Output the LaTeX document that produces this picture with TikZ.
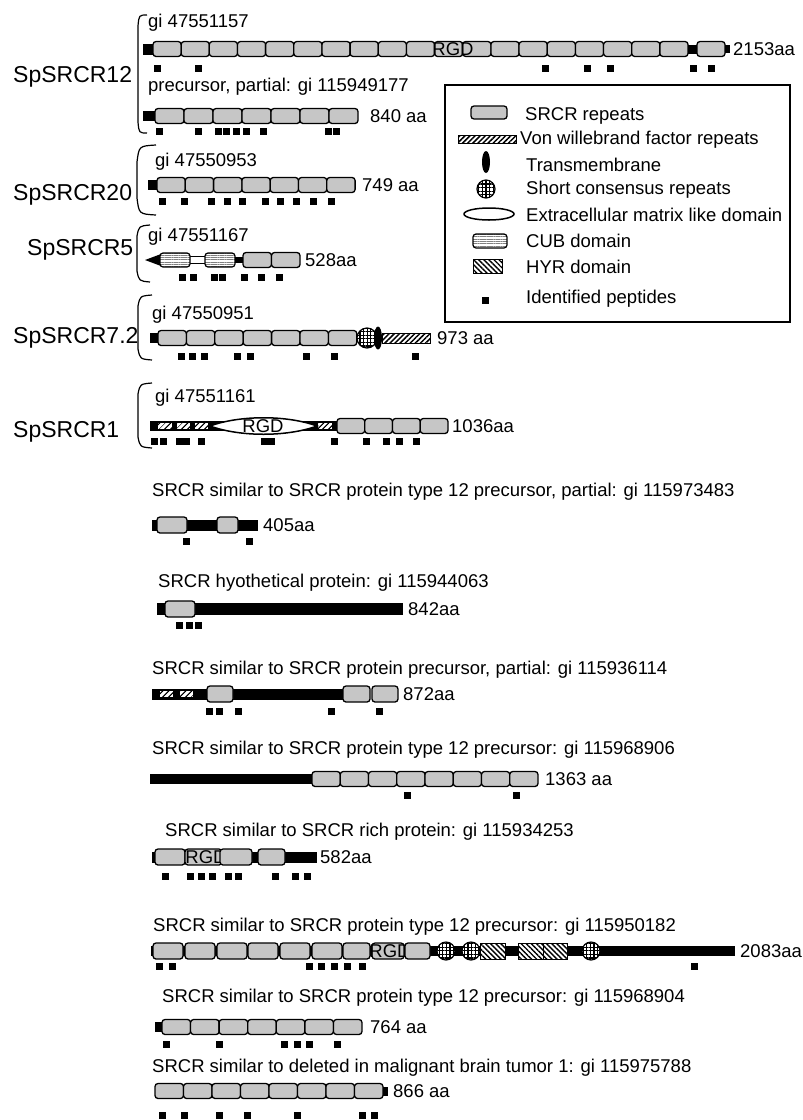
\documentclass[tikz,border=0pt]{standalone}
\usepackage{fontspec}
\setmainfont{Liberation Sans}
\usetikzlibrary{patterns.meta}
\definecolor{srcrgray}{RGB}{198,198,198}
\newcommand\fmid{\fontsize{18.5}{22}\selectfont}
\newcommand\fbig{\fontsize{23}{27}\selectfont}
% #1 x0, #2 width, #3 count, #4 y centre
\newcommand\srcrs[4]{\foreach \k in {1,...,#3}{\draw[srcr] ({#1+(\k-1)*#2},{#4-7.5}) rectangle ({#1+\k*#2},{#4+7.5});}}
% #1 y centre, #2 list of x centres
\newcommand\peps[2]{\foreach \px in {#2}{\fill ({\px-3.5},{#1-3.5}) rectangle ++(7,7);}}
\begin{document}
\begin{tikzpicture}[x=1pt,y=-1pt,
  srcr/.style={draw=black,fill=srcrgray,line width=1.3pt,rounded corners=3pt},
  lbl/.style={anchor=west,inner sep=0pt,font=\fmid},
  big/.style={anchor=west,inner sep=0pt,font=\fbig},
  rgd/.style={inner sep=0pt,font=\fmid},
  brk/.style={draw=black,line width=1.2pt},
  vwf/.style={draw=black,line width=1pt,preaction={fill=white},pattern={Lines[angle=45,distance=3.6pt,line width=1.5pt]}},
  vwfin/.style={preaction={fill=white},pattern={Lines[angle=45,distance=4pt,line width=1.3pt]}},
  hyr/.style={draw=black,line width=1pt,preaction={fill=white},pattern={Lines[angle=-45,distance=3.6pt,line width=1.4pt]}},
  scr/.style={draw=black,line width=1.2pt,preaction={fill=white},pattern={Hatch[angle=0,distance=3.6pt,line width=1.3pt]}},
  cub/.style={draw=black,line width=1.2pt,rounded corners=3pt,preaction={fill=white},pattern={Lines[angle=0,distance=2.3pt,line width=0.7pt]},pattern color=gray},
  ecm/.style={draw=black,line width=1.5pt,fill=white},
  ]
\useasboundingbox (0,0) rectangle (803,1120);
\fill[white] (0,0) rectangle (803,1120);

% ---------------- group labels and brackets
\node[big] (g12) at (13,77) {SpSRCR12};
\node[big] (g20) at (13,195) {SpSRCR20};
\node[big] (g5) at (27,250) {SpSRCR5};
\node[big] (g72) at (13,338) {SpSRCR7.2};
\node[big] (g1) at (13,432) {SpSRCR1};
\draw[brk] (147,15) .. controls (139,15) .. (138,26) -- (138,122) .. controls (139,133) .. (147,133);
\draw[brk] (156,145) .. controls (139,146) .. (137,162) -- (137,198) .. controls (139,214) .. (156,215);
\draw[brk] (150,225) .. controls (139,226) .. (137,236) -- (137,271) .. controls (139,281) .. (150,282);
\draw[brk] (152,295) .. controls (140,296) .. (138,306) -- (138,349) .. controls (140,359) .. (152,360);
\draw[brk] (152,383) .. controls (140,384) .. (138,394) -- (138,437) .. controls (140,447) .. (152,448);

% ---------------- row 1
\node[lbl] (t1) at (148,23) {gi 47551157};
\fill (143,44) rectangle (154,55);
\srcrs{153}{28.16}{19}{49}
\node[rgd] (r1) at (453,49) {RGD};
\fill (688,45) rectangle (698,54);
\draw[srcr] (697,41.5) rectangle (725,56.5);
\fill (725,45) rectangle (730,53);
\node[lbl] (a1) at (733,49) {2153aa};
\peps{68}{157,198,545,587,610,693,711}

% ---------------- row 2
\node[lbl] (t2) at (148,87) {precursor, partial: gi 115949177};
\fill (143,111) rectangle (156,121);
\srcrs{155}{29}{7}{116}
\node[lbl] (a2) at (370,116) {840 aa};
\peps{131}{159,198,218.5,226.5,236.5,246.5,263.5,328.5,336.5}

% ---------------- row 3
\node[lbl] (t3) at (155,162) {gi 47550953};
\fill (148,180) rectangle (158,190);
\srcrs{157}{28.3}{7}{185}
\node[lbl] (a3) at (362,185) {749 aa};
\peps{201}{162.5,184,211,227,242,265,280,296,313,331}

% ---------------- row 4
\node[lbl] (t4) at (148,237) {gi 47551167};
\fill (145,260) -- (161,254) -- (161,266) -- cycle;
\draw[line width=1pt,fill=white] (189,256.5) rectangle (206,263.5);
\draw[cub] (160,253) rectangle (190,267);
\draw[cub] (205,253) rectangle (235,267);
\fill (235,257) rectangle (244,263);
\srcrs{243}{28.5}{2}{260}
\node[lbl] (a4) at (305,260) {528aa};
\peps{277}{182.5,193,214,222.5,244,261,279}

% ---------------- row 5
\node[lbl] (t5) at (152,315) {gi 47550951};
\fill (150,333) rectangle (159,343);
\srcrs{158}{28.4}{7}{338}
\draw[vwf] (382,333) rectangle (430,343);
\draw[scr] (367,338) circle (10);
\fill (378,338) ellipse (4 and 11.5);
\node[lbl] (a5) at (437,338) {973 aa};
\peps{356}{181.5,192.5,204,237,250,306,334,415}

% ---------------- row 6
\node[lbl] (t6) at (155,398) {gi 47551161};
\fill (150,421) rectangle (338,431);
\fill[vwfin] (158,423) rectangle (172,429);
\fill[vwfin] (177,423) rectangle (190,429);
\fill[vwfin] (195,423) rectangle (208,429);
\fill[vwfin] (318,423) rectangle (332,429);
\draw[ecm] (210,426) .. controls (240,415) and (287,415) .. (317,426) .. controls (287,437) and (240,437) .. (210,426);
\node[rgd] (r6) at (263,426) {RGD};
\srcrs{337}{27.75}{4}{426}
\node[lbl] (a6) at (452,426) {1036aa};
\peps{441}{154,163,179.5,186,201.5,264.5,271.5,334,366.5,386.5,399,416.5}

% ---------------- legend
\draw[line width=1.2pt] (445,85) rectangle (790,322);
\draw[srcr] (471,106) rectangle (507,119);
\node[lbl] (l1) at (525,116) {SRCR repeats};
\draw[vwf] (458,135) rectangle (516,143);
\node[lbl] (l2) at (520,140) {Von willebrand factor repeats};
\fill (486,162) ellipse (4 and 11);
\node[lbl] (l3) at (526,165) {Transmembrane};
\draw[scr] (486,189) circle (9);
\node[lbl] (l4) at (526,190) {Short consensus repeats};
\draw[ecm] (489,214) ellipse (25 and 6);
\node[lbl] (l5) at (526,215) {Extracellular matrix like domain};
\draw[cub] (473,234) rectangle (507,248);
\node[lbl] (l6) at (526,241) {CUB domain};
\draw[hyr] (473,259) rectangle (502,273);
\node[lbl] (l7) at (526,267) {HYR domain};
\fill (482,297) rectangle (489,304);
\node[lbl] (l8) at (526,299) {Identified peptides};

% ---------------- row 7
\node[lbl] (t7) at (152,492) {SRCR similar to SRCR protein type 12 precursor, partial: gi 115973483};
\fill (152,519.5) rectangle (258,530.5);
\draw[srcr] (157,517) rectangle (187,533);
\draw[srcr] (217,517) rectangle (238,533);
\node[lbl] (a7) at (263,525) {405aa};
\peps{541}{186,249}

% ---------------- row 8
\node[lbl] (t8) at (158,583) {SRCR hyothetical protein: gi 115944063};
\fill (157,603) rectangle (403,615);
\draw[srcr] (165,601) rectangle (195,617);
\node[lbl] (a8) at (408,609) {842aa};
\peps{625}{179,189,198}

% ---------------- row 9
\node[lbl] (t9) at (152,670) {SRCR similar to SRCR protein precursor, partial: gi 115936114};
\fill (152,688.5) rectangle (343,699.5);
\fill[vwfin] (160,691) rectangle (173,697);
\fill[vwfin] (180,691) rectangle (193,697);
\draw[srcr] (207,686) rectangle (233,702);
\draw[srcr] (343,686) rectangle (370,702);
\draw[srcr] (372,686) rectangle (398,702);
\node[lbl] (a9) at (403,694) {872aa};
\peps{711}{209.5,219,238,331,379}

% ---------------- row 10
\node[lbl] (t10) at (152,750) {SRCR similar to SRCR protein type 12 precursor: gi 115968906};
\fill (150,774) rectangle (313,784);
\srcrs{312}{28.25}{8}{779}
\node[lbl] (a10) at (545,779) {1363 aa};
\peps{795}{407,516}

% ---------------- row 11
\node[lbl] (t11) at (165,832) {SRCR similar to SRCR rich protein: gi 115934253};
\fill (152,851.5) rectangle (317,862.5);
\draw[srcr] (155,849) rectangle (185,865);
\draw[srcr] (185,849) rectangle (222,865);
\node[rgd] (r11) at (206,857) {RGD};
\draw[srcr] (220,849) rectangle (252,865);
\draw[srcr] (258,849) rectangle (285,865);
\node[lbl] (a11) at (320,857) {582aa};
\peps{876}{165,190,201,212,228,238,275,295,307}

% ---------------- row 12
\node[lbl] (t12) at (153,927) {SRCR similar to SRCR protein type 12 precursor: gi 115950182};
\fill (151,946) rectangle (735,956);
\foreach \a/\b in {153/183,185/215,217/247,248/278,280/310,312/342,343/370,372/404}{\draw[srcr] (\a,943) rectangle (\b,959);}
\node[rgd] (r12) at (390,951) {RGD};
\draw[srcr] (405,943) rectangle (430,959);
\draw[scr] (446,951) circle (9);
\draw[scr] (471,951) circle (9);
\draw[hyr] (480,943) rectangle (505,959);
\draw[hyr] (518,943) rectangle (543,959);
\draw[hyr] (543,943) rectangle (567,959);
\draw[scr] (591,951) circle (9);
\node[lbl] (a12) at (740,951) {2083aa};
\peps{966}{159,172,309,321,334,347,362,694}

% ---------------- row 13
\node[lbl] (t13) at (162,998) {SRCR similar to SRCR protein type 12 precursor: gi 115968904};
\fill (155,1022) rectangle (163,1032);
\srcrs{162}{28.57}{7}{1027}
\node[lbl] (a13) at (370,1027) {764 aa};
\peps{1044}{166,219,284,297,309,337}

% ---------------- row 14
\node[lbl] (t14) at (152,1068) {SRCR similar to deleted in malignant brain tumor 1: gi 115975788};
\srcrs{155}{28.5}{8}{1091}
\fill (383,1086.5) rectangle (388,1095.5);
\node[lbl] (a14) at (393,1091) {866 aa};
\peps{1115}{162,184,219,247,297,362,374}
\end{tikzpicture}
\end{document}
